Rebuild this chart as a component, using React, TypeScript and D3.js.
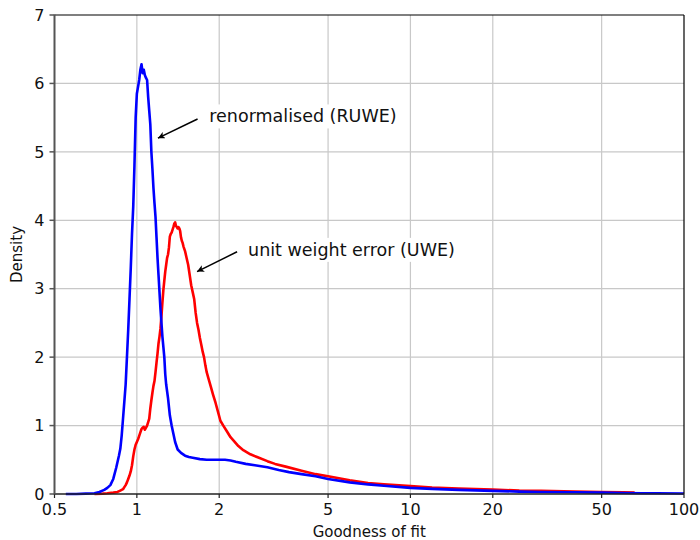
import React, { useEffect, useRef } from "react";
import * as d3 from "d3";

const ruweX = [0.55,0.6,0.65,0.7,0.73,0.76,0.78,0.8,0.82,0.84,0.86,0.87,0.88,0.89,0.9,0.91,0.92,0.93,0.94,0.95,0.96,0.97,0.98,0.99,1.0,1.01,1.02,1.03,1.04,1.05,1.06,1.07,1.08,1.09,1.1,1.11,1.12,1.13,1.14,1.15,1.16,1.17,1.18,1.19,1.2,1.21,1.22,1.23,1.24,1.25,1.26,1.27,1.28,1.3,1.32,1.34,1.36,1.38,1.41,1.45,1.5,1.55,1.6,1.7,1.8,1.9,2.0,2.1,2.2,2.3,2.5,2.7,3.0,3.3,3.6,4.0,4.5,5,6,7,8,10,12,15,20,25,30,40,50,60,70,80,100];
const ruweY = [0,0,0.005,0.01,0.03,0.06,0.09,0.13,0.22,0.38,0.56,0.66,0.85,1.1,1.35,1.6,2.0,2.4,2.85,3.3,3.8,4.2,4.8,5.5,5.85,5.95,6.05,6.2,6.28,6.15,6.2,6.12,6.08,6.05,5.8,5.6,5.4,5.0,4.75,4.47,4.25,4.05,3.75,3.45,3.2,2.95,2.7,2.5,2.3,2.15,2.0,1.75,1.6,1.4,1.15,1.0,0.88,0.76,0.65,0.6,0.56,0.54,0.53,0.51,0.5,0.5,0.5,0.5,0.49,0.47,0.44,0.42,0.39,0.35,0.32,0.29,0.26,0.22,0.17,0.14,0.12,0.09,0.075,0.06,0.045,0.035,0.03,0.025,0.02,0.015,0.012,0.01,0.008];

const uweX = [0.7,0.75,0.78,0.82,0.85,0.87,0.89,0.9,0.91,0.92,0.93,0.94,0.95,0.96,0.97,0.98,0.99,1.0,1.01,1.02,1.03,1.04,1.05,1.06,1.07,1.08,1.09,1.1,1.11,1.12,1.13,1.14,1.15,1.16,1.17,1.18,1.19,1.2,1.21,1.22,1.23,1.24,1.25,1.26,1.27,1.28,1.29,1.3,1.31,1.32,1.33,1.34,1.35,1.36,1.37,1.38,1.39,1.4,1.41,1.42,1.43,1.44,1.45,1.46,1.47,1.48,1.5,1.52,1.54,1.56,1.58,1.6,1.62,1.64,1.66,1.68,1.7,1.72,1.74,1.76,1.78,1.8,1.83,1.86,1.9,1.94,1.98,2.02,2.07,2.13,2.2,2.27,2.35,2.45,2.6,2.75,3.0,3.2,3.5,4.0,4.5,5,6,7,8,10,12,15,20,25,30,40,50,60,66];
const uweY = [0,0.005,0.01,0.02,0.03,0.05,0.07,0.1,0.13,0.17,0.22,0.27,0.33,0.42,0.55,0.65,0.72,0.76,0.8,0.85,0.9,0.95,0.97,0.98,0.94,0.97,1.0,1.05,1.1,1.25,1.37,1.48,1.58,1.65,1.78,1.92,2.05,2.2,2.3,2.42,2.6,2.8,2.98,3.12,3.25,3.35,3.45,3.5,3.6,3.76,3.8,3.82,3.86,3.9,3.95,3.97,3.92,3.9,3.88,3.9,3.88,3.84,3.75,3.7,3.67,3.62,3.55,3.45,3.35,3.2,3.05,2.95,2.85,2.65,2.5,2.4,2.28,2.18,2.08,2.0,1.88,1.78,1.68,1.58,1.45,1.33,1.2,1.07,1.0,0.92,0.83,0.77,0.7,0.64,0.58,0.54,0.48,0.44,0.4,0.34,0.29,0.26,0.2,0.16,0.14,0.115,0.095,0.08,0.065,0.05,0.045,0.035,0.03,0.025,0.02];

const xTicks = [0.5, 1, 2, 5, 10, 20, 50, 100];
const yTicks = [0, 1, 2, 3, 4, 5, 6, 7];

const annoLabels = ["renormalised (RUWE)", "unit weight error (UWE)"];
const annoTextX = [1.84, 2.55];
const annoTextY = [5.43, 3.48];
const annoFromX = [1.667, 2.325];
const annoFromY = [5.48, 3.54];
const annoTipX = [1.194, 1.66];
const annoTipY = [5.2, 3.25];

const W = 700, H = 540;
const M = { left: 54.5, right: 16, top: 15, bottom: 46 };
const FONT = "'DejaVu Sans', Verdana, sans-serif";

export default function App() {
  const ref = useRef<SVGSVGElement>(null);
  useEffect(() => {
    const svg = d3.select(ref.current);
    svg.selectAll("*").remove();
    const x = d3.scaleLog().domain([0.5, 100]).range([M.left, W - M.right]);
    const y = d3.scaleLinear().domain([0, 7]).range([H - M.bottom, M.top]);
    const x0 = M.left, x1 = W - M.right, y0 = H - M.bottom, y1 = M.top;

    svg.append("defs").append("marker")
      .attr("id", "ah").attr("viewBox", "0 0 10 10").attr("refX", 10).attr("refY", 5)
      .attr("markerWidth", 7).attr("markerHeight", 7).attr("markerUnits", "userSpaceOnUse")
      .attr("orient", "auto")
      .append("path").attr("d", "M0,0 L10,5 L0,10 L2.5,5 Z").attr("fill", "#000");

    const g = svg.append("g");
    // grid
    g.selectAll("line.gx").data(xTicks.slice(1, -1)).enter().append("line")
      .attr("x1", d => x(d)).attr("x2", d => x(d)).attr("y1", y0).attr("y2", y1)
      .attr("stroke", "#c8c8c8").attr("stroke-width", 1.2);
    g.selectAll("line.gy").data(yTicks.slice(1, -1)).enter().append("line")
      .attr("y1", d => y(d)).attr("y2", d => y(d)).attr("x1", x0).attr("x2", x1)
      .attr("stroke", "#c8c8c8").attr("stroke-width", 1.2);

    // annotation text with white backgrounds
    const texts = annoLabels.map((t, i) =>
      g.append("text").attr("x", x(annoTextX[i])).attr("y", y(annoTextY[i]))
        .attr("font-family", FONT).attr("font-size", 17.5).attr("fill", "#111").text(t));
    texts.forEach(t => {
      const bb = (t.node() as SVGTextElement).getBBox();
      g.insert("rect", "text").attr("x", bb.x - 4).attr("y", bb.y - 2)
        .attr("width", bb.width + 8).attr("height", bb.height + 4).attr("fill", "#fff");
    });

    // curves
    const line = d3.line<[number, number]>().x(d => x(d[0])).y(d => y(d[1]));
    const uwe = uweX.map((v, i) => [v, uweY[i]] as [number, number]);
    const ruwe = ruweX.map((v, i) => [v, ruweY[i]] as [number, number]);
    g.append("path").attr("d", line(uwe)).attr("fill", "none").attr("stroke", "#ff0000")
      .attr("stroke-width", 2.6).attr("stroke-linejoin", "round");
    g.append("path").attr("d", line(ruwe)).attr("fill", "none").attr("stroke", "#0000ff")
      .attr("stroke-width", 2.6).attr("stroke-linejoin", "round");

    // arrows
    annoLabels.forEach((_, i) => {
      g.append("line").attr("x1", x(annoFromX[i])).attr("y1", y(annoFromY[i]))
        .attr("x2", x(annoTipX[i])).attr("y2", y(annoTipY[i]))
        .attr("stroke", "#000").attr("stroke-width", 1.5).attr("marker-end", "url(#ah)");
    });

    // frame
    g.append("line").attr("x1", x0).attr("x2", x1).attr("y1", y1).attr("y2", y1).attr("stroke", "#000").attr("stroke-width", 1.2);
    g.append("line").attr("x1", x1).attr("x2", x1).attr("y1", y1).attr("y2", y0).attr("stroke", "#000").attr("stroke-width", 1.2);
    g.append("line").attr("x1", x0).attr("x2", x1).attr("y1", y0).attr("y2", y0).attr("stroke", "#222").attr("stroke-width", 1.5);
    g.append("line").attr("x1", x0).attr("x2", x0).attr("y1", y1 - 0.6).attr("y2", y0 + 0.75).attr("stroke", "#555").attr("stroke-width", 2);

    // ticks
    g.selectAll("line.tx").data(xTicks).enter().append("line")
      .attr("x1", d => x(d)).attr("x2", d => x(d)).attr("y1", y0).attr("y2", y0 + 4)
      .attr("stroke", "#222").attr("stroke-width", 1.2);
    g.selectAll("line.ty").data(yTicks).enter().append("line")
      .attr("y1", d => y(d)).attr("y2", d => y(d)).attr("x1", x0 - 5).attr("x2", x0)
      .attr("stroke", "#555").attr("stroke-width", 1.5);

    g.selectAll("text.tx").data(xTicks).enter().append("text")
      .attr("x", d => x(d)).attr("y", y0 + 21).attr("text-anchor", "middle")
      .attr("font-family", FONT).attr("font-size", 16).attr("fill", "#111").text(d => String(d));
    g.selectAll("text.ty").data(yTicks).enter().append("text")
      .attr("x", x0 - 10).attr("y", d => y(d)).attr("dy", "0.36em").attr("text-anchor", "end")
      .attr("font-family", FONT).attr("font-size", 16).attr("fill", "#111").text(d => String(d));

    g.append("text").attr("x", (x0 + x1) / 2).attr("y", 537).attr("text-anchor", "middle")
      .attr("font-family", FONT).attr("font-size", 15).attr("fill", "#111").text("Goodness of fit");
    g.append("text").attr("transform", `translate(22,${(y0 + y1) / 2}) rotate(-90)`)
      .attr("text-anchor", "middle").attr("font-family", FONT).attr("font-size", 15)
      .attr("fill", "#111").text("Density");
  }, []);
  return (
    <svg ref={ref} width={W} height={H} style={{ position: "absolute", left: 0, top: 0, background: "#fff" }} />
  );
}
